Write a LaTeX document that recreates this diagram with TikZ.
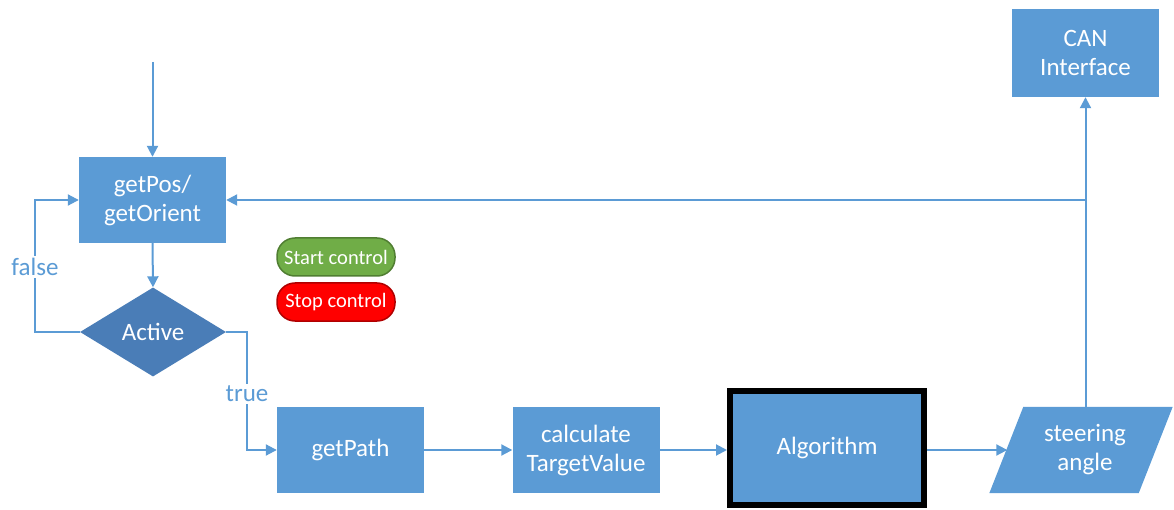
\documentclass[tikz,border=0pt]{standalone}
\usepackage{fontspec}
\setmainfont{Carlito}
\usetikzlibrary{arrows.meta,shapes.geometric,backgrounds,calc}
\definecolor{boxblue}{HTML}{5B9BD5}
\definecolor{darkblue}{HTML}{4A7DB7}
\definecolor{lineblue}{HTML}{5B9BD5}
\definecolor{okgreen}{HTML}{70AD47}
\definecolor{okgreenline}{HTML}{507E32}
\definecolor{stopred}{HTML}{FF0000}
\definecolor{stopredline}{HTML}{B00000}
\begin{document}
\begin{tikzpicture}[x=1pt,y=-1pt,
  procbox/.style={rectangle, fill=boxblue, text=white, minimum width=147pt, minimum height=86pt,
    inner sep=0pt, align=center, font=\fontsize{25}{29}\selectfont},
  decide/.style={diamond, fill=darkblue, text=white, minimum width=146pt, minimum height=89pt,
    inner sep=0pt, aspect=1.64, font=\fontsize{25}{29}\selectfont},
  pill/.style={rectangle, rounded corners=18pt, minimum width=118pt, minimum height=38pt,
    inner sep=0pt, text=white, line width=1.5pt, font=\fontsize{20.5}{24}\selectfont},
  conn/.style={draw=lineblue, line width=2pt, -{Triangle[length=11pt,width=11pt]}},
  lbl/.style={fill=white, text=lineblue, inner sep=2pt, font=\fontsize{25}{29}\selectfont}]
\useasboundingbox (0,0) rectangle (1174,510);

\node[procbox] (getpos) at (152.5,200) {getPos/\\getOrient};
\node[decide] (active) at (153,332) {Active};
\node[procbox] (getpath) at (350.5,450) {getPath};
\node[procbox] (calc) at (586,450) {calculate\\TargetValue};
\node[procbox, minimum width=194pt, minimum height=114pt, draw=black, line width=6pt] (algo) at (827,448) {Algorithm};
\node[rectangle, minimum width=149pt, minimum height=86pt, inner sep=0pt, text=white, align=center,
  font=\fontsize{25}{29}\selectfont] (sa) at (1081,450) {\hspace*{8pt}steering\\\hspace*{8pt}angle};
\begin{scope}[on background layer]
  \fill[boxblue] ($(sa.south west)+(-17,0)$) -- ($(sa.north west)+(17,0)$)
     -- ($(sa.north east)+(17,0)$) -- ($(sa.south east)+(-17,0)$) -- cycle;
\end{scope}
\node[procbox, minimum height=88pt] (can) at (1085.5,53) {CAN\\Interface};

\node[pill, fill=okgreen, draw=okgreenline] (start) at (336,257) {Start control};
\node[pill, fill=stopred, draw=stopredline] (stop) at (336,302) {Stop control};

\coordinate (in) at (152.5,62);
\draw[conn] (in) -- (getpos.north);
\draw[conn] (getpos.south) -- (active.north);
\coordinate (fcorner) at (35,332);
\draw[conn] (active.west) -- (fcorner) -- (fcorner |- getpos.west) -- (getpos.west);
\coordinate (tcorner) at (247,332);
\draw[conn] (active.east) -- (tcorner) -- (tcorner |- getpath.west) -- (getpath.west);
\node[lbl] (flabel) at (35,267) {false};
\node[lbl] (tlabel) at (247,394) {true};
\draw[conn] (getpath.east) -- (calc.west);
\draw[conn] (calc.east) -- (calc.east -| algo.west);
\draw[conn, shorten >=-1pt] (algo.east |- sa.west) -- (sa.west);
\coordinate (branch) at (can.south |- getpos.east);
\draw[conn] (can.south |- sa.north) -- (can.south);
\draw[conn] (branch) -- (getpos.east);
\end{tikzpicture}
\end{document}
